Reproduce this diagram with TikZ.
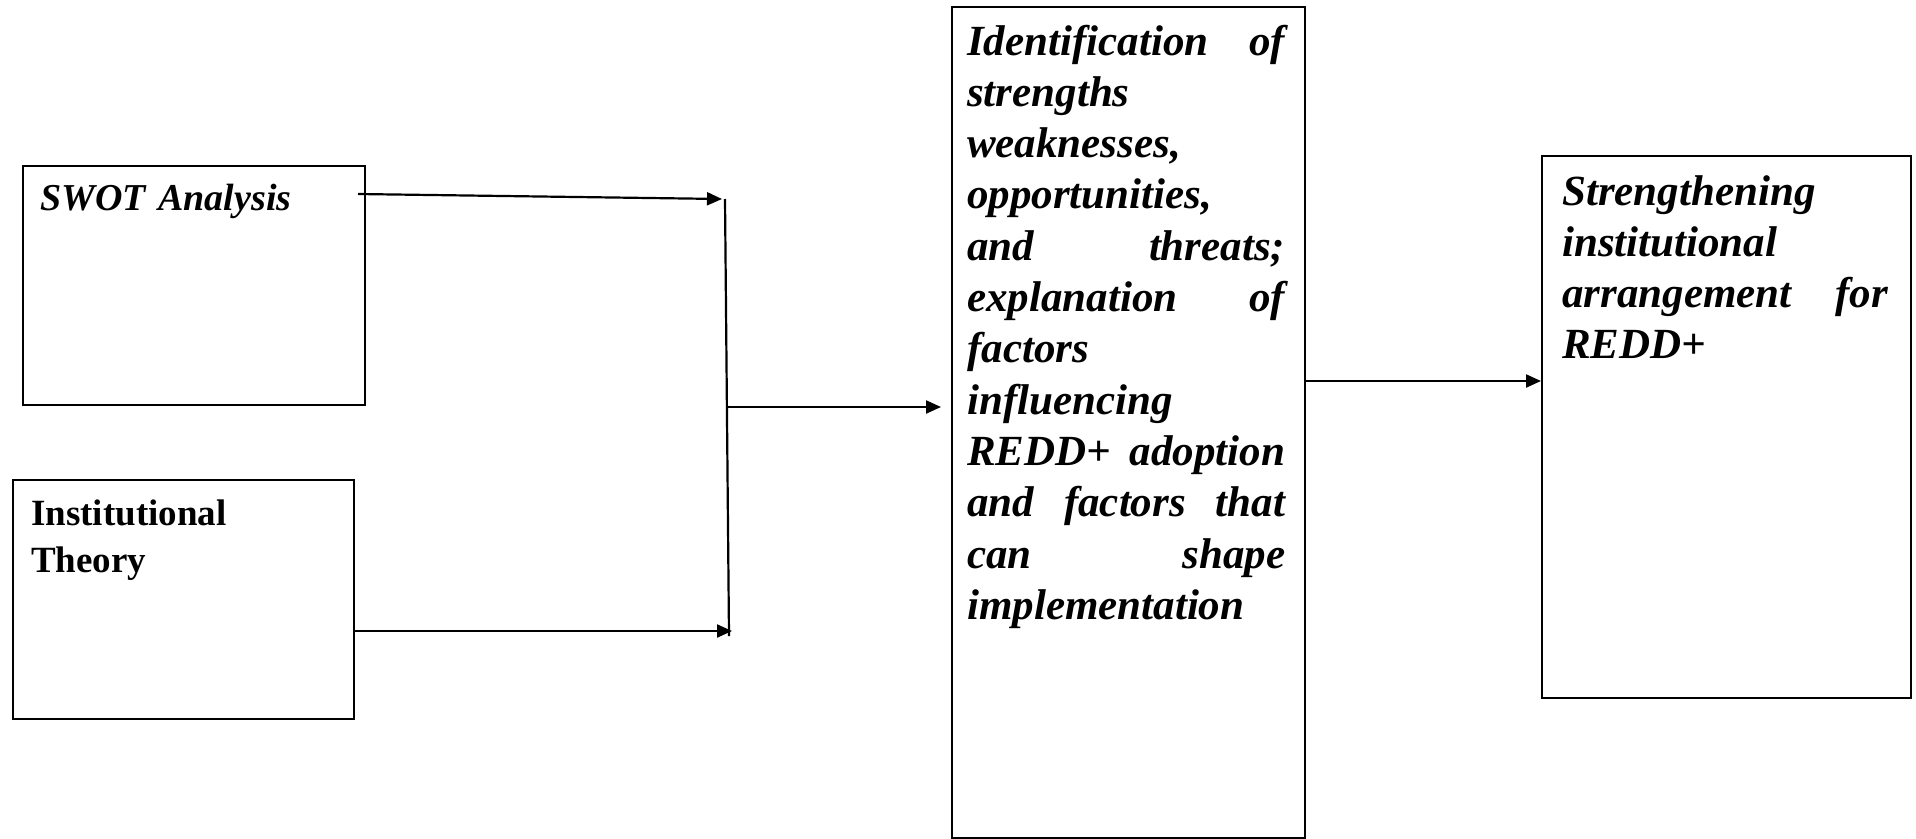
\documentclass[tikz,border=0pt]{standalone}
\usepackage{fontspec}
\setmainfont{Liberation Serif}
\usetikzlibrary{arrows.meta}
\begin{document}
\begin{tikzpicture}[x=1pt,y=-1pt,
  boxnode/.style={draw,line width=2pt,rectangle,inner sep=0pt,anchor=north west},
  txt/.style={inner sep=0pt,anchor=base west,align=left},
  bigtxt/.style={txt,font=\fontsize{43}{51.3}\selectfont\bfseries\itshape},
  arr/.style={line width=2.2pt,-{Triangle[length=15pt,width=13pt]}},
  ln/.style={line width=2.2pt}]
\useasboundingbox (0,0) rectangle (1916,838);
% boxes
\node[boxnode,minimum width=342pt,minimum height=239pt] (swot) at (22,165) {};
\node[boxnode,minimum width=341pt,minimum height=239pt] (inst) at (12,479) {};
\node[boxnode,minimum width=353pt,minimum height=831pt] (mid) at (951,6) {};
\node[boxnode,minimum width=369pt,minimum height=542pt] (res) at (1541,155) {};
% texts
\node[txt,text width=320pt,font=\fontsize{38}{45}\selectfont\bfseries\itshape] (swotT) at (40,210) {SWOT Analysis};
\node[txt,text width=320pt,font=\fontsize{37}{47}\selectfont\bfseries] (instT) at (31,525) {Institutional\\Theory};
\node[bigtxt,text width=318pt] (midT) at (967,55) {Identification\hfill of\\
strengths\\
weaknesses,\\
opportunities,\\
and\hfill threats;\\
explanation\hfill of\\
factors\\
influencing\\
REDD+\hfill adoption\\
and\hfill factors\hfill that\\
can\hfill shape\\
implementation};
\node[bigtxt,text width=326pt] (resT) at (1562,205) {Strengthening\\
institutional\\
arrangement\hfill for\\
REDD+};
% connectors
\coordinate (j1) at (722,199);
\coordinate (v1) at (725,199);
\coordinate (v2) at (729,636);
\coordinate (j2) at (732,631);
\coordinate (j3) at (727,407);
\coordinate (a4) at (0,381);
\draw[arr] ([xshift=-8pt,yshift=-29pt]swot.north east) -- (j1);
\draw[ln] (v1) -- (v2);
\draw[arr] (inst.east |- j2) -- (j2);
\draw[arr] (j3) -- ([xshift=-10pt]mid.west |- j3);
\draw[arr] (mid.east |- a4) -- (res.west |- a4);
\end{tikzpicture}
\end{document}
